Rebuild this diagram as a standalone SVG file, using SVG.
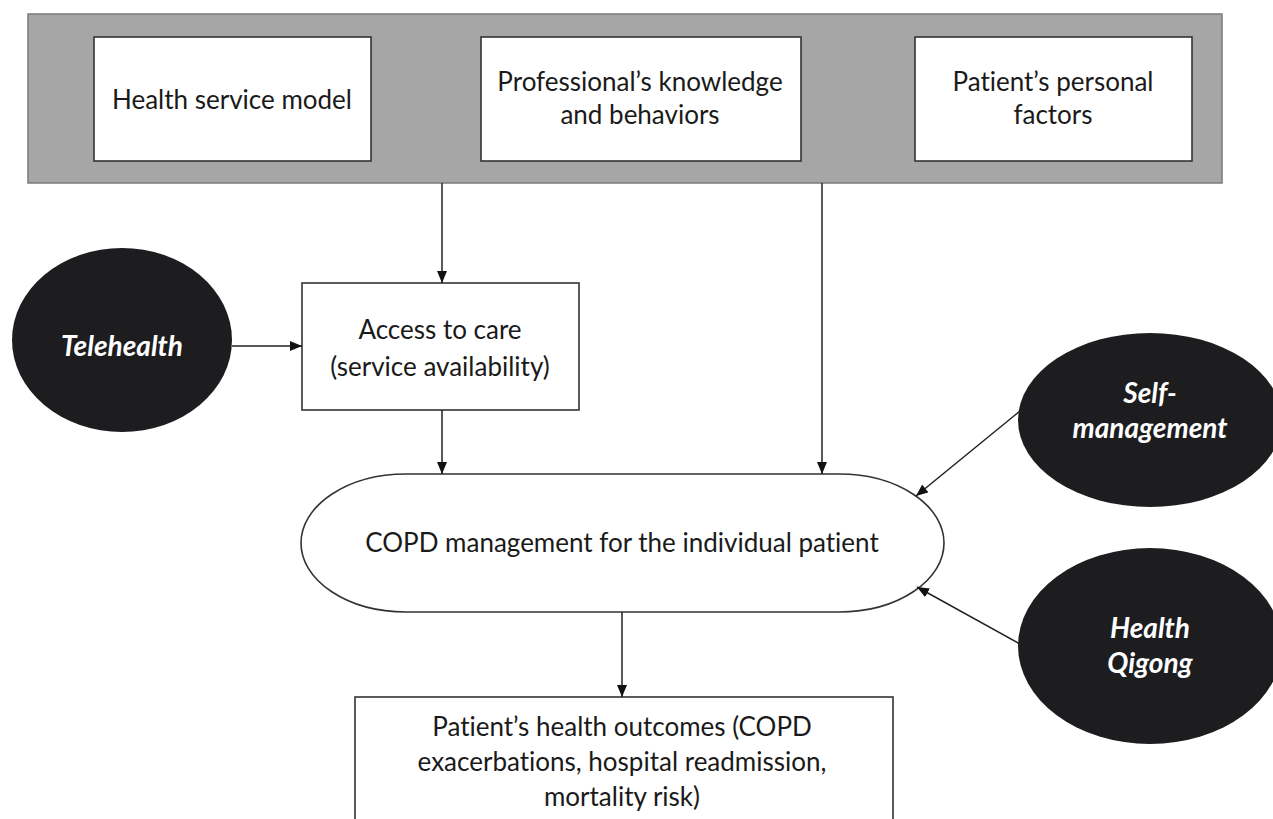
<svg xmlns="http://www.w3.org/2000/svg" width="1273" height="819" viewBox="0 0 1273 819">
<defs>
<marker id="ah" viewBox="0 0 12 10" refX="12" refY="5" markerWidth="12" markerHeight="10" markerUnits="userSpaceOnUse" orient="auto">
<path d="M0,0 L12,5 L0,10 z" fill="#111"/>
</marker>
<style>
text{font-variant-ligatures:none;font-feature-settings:"liga" 0,"clig" 0,"calt" 0,"dlig" 0}
.box{fill:#fff;stroke:#333;stroke-width:1.6}
.t{font-family:Lato,"Liberation Sans",sans-serif;font-size:26px;fill:#1a1a1a;text-anchor:middle}
.dark{fill:#1d1d20;stroke:none}
.w{font-family:Lato,"Liberation Sans",sans-serif;font-size:28px;font-weight:bold;font-style:italic;fill:#fff;text-anchor:middle}
.c{stroke:#222;stroke-width:1.5;fill:none;marker-end:url(#ah)}
</style>
</defs>
<rect width="1273" height="819" fill="#fff"/>
<g id="factors">
<rect x="28" y="14" width="1194" height="169" fill="#a6a6a6" stroke="#7a7a7a" stroke-width="1.5"/>
</g>
<g id="health-service-model">
<rect class="box" x="94" y="37" width="277" height="124"/>
<text class="t" x="232" y="109">Health service model</text>
</g>
<g id="professional">
<rect class="box" x="481" y="37" width="320" height="124"/>
<text class="t" x="640" y="91">Professional’s knowledge</text>
<text class="t" x="640" y="124">and behaviors</text>
</g>
<g id="patient-factors">
<rect class="box" x="915" y="37" width="277" height="124"/>
<text class="t" x="1053" y="91">Patient’s personal</text>
<text class="t" x="1053" y="124">factors</text>
</g>
<g id="telehealth">
<ellipse class="dark" cx="122" cy="340" rx="110" ry="92"/>
<text class="w" x="122" y="356">Telehealth</text>
</g>
<g id="access">
<rect class="box" x="302" y="283" width="277" height="127"/>
<text class="t" x="440" y="339">Access to care</text>
<text class="t" x="440" y="376">(service availability)</text>
</g>
<g id="self-management">
<ellipse class="dark" cx="1150" cy="420" rx="132" ry="87"/>
<text class="w" x="1150" y="403">Self-</text>
<text class="w" x="1150" y="438">management</text>
</g>
<g id="health-qigong">
<ellipse class="dark" cx="1150" cy="646" rx="132" ry="98"/>
<text class="w" x="1150" y="638">Health</text>
<text class="w" x="1150" y="673">Qigong</text>
</g>
<g id="copd-management">
<rect class="box" x="301" y="474" width="643" height="138" rx="105" ry="69"/>
<text class="t" x="622" y="552">COPD management for the individual patient</text>
</g>
<g id="outcomes">
<rect class="box" x="355" y="697" width="538" height="140"/>
<text class="t" x="622" y="736">Patient’s health outcomes (COPD</text>
<text class="t" x="622" y="771">exacerbations, hospital readmission,</text>
<text class="t" x="622" y="806">mortality risk)</text>
</g>
<g id="connectors">
<line class="c" x1="442" y1="183" x2="442" y2="283"/>
<line class="c" x1="822" y1="183" x2="822" y2="474"/>
<line class="c" x1="232" y1="346" x2="302" y2="346"/>
<line class="c" x1="442" y1="410" x2="442" y2="474"/>
<line class="c" x1="1020" y1="411" x2="916" y2="496"/>
<line class="c" x1="1020" y1="644" x2="917" y2="587"/>
<line class="c" x1="622" y1="612" x2="622" y2="697"/>
</g>
</svg>
